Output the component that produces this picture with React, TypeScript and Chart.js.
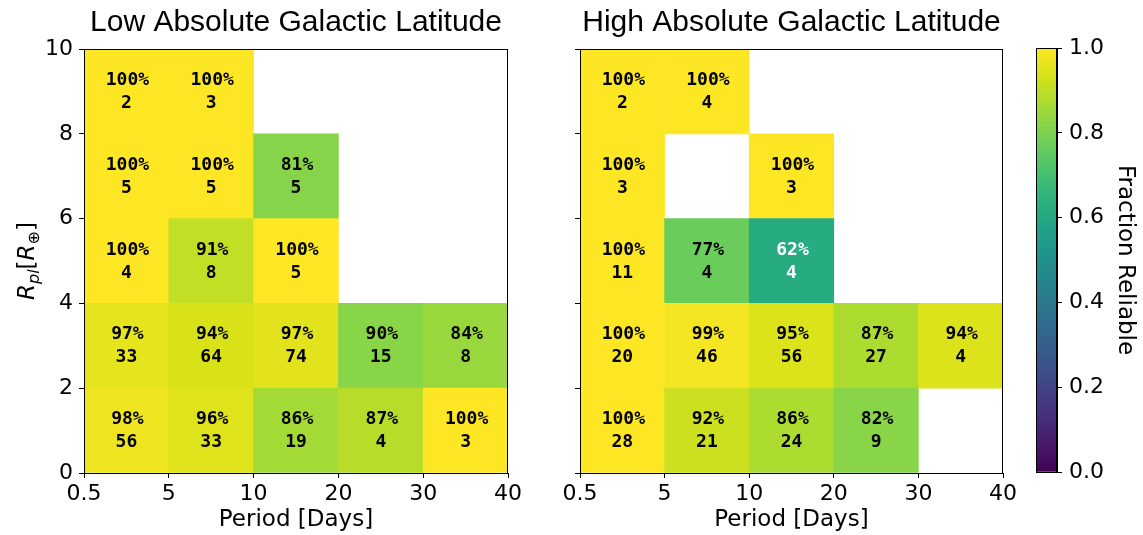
import React, { useEffect, useRef } from "react";
import { Chart, registerables } from "chart.js";

Chart.register(...registerables);

// ---------------- data ----------------
const panelTitles = ["Low Absolute Galactic Latitude", "High Absolute Galactic Latitude"];
const periodTickLabels = ["0.5", "5", "10", "20", "30", "40"];
const radiusEdges = [0, 2, 4, 6, 8, 10];
const colorbarTicks = [0, 0.2, 0.4, 0.6, 0.8, 1.0];
const xAxisTitle = "Period [Days]";
const colorbarTitle = "Fraction Reliable";

// rows: radius bins bottom -> top (0-2, 2-4, 4-6, 6-8, 8-10); columns: period bins
const lowPct = [
  [98, 96, 86, 87, 100],
  [97, 94, 97, 90, 84],
  [100, 91, 100, null, null],
  [100, 100, 81, null, null],
  [100, 100, null, null, null],
];
const lowCount = [
  [56, 33, 19, 4, 3],
  [33, 64, 74, 15, 8],
  [4, 8, 5, null, null],
  [5, 5, 5, null, null],
  [2, 3, null, null, null],
];
const lowColorFrac = [
  [0.975, 0.95, 0.86, 0.89, 1.0],
  [0.96, 0.94, 0.955, 0.82, 0.845],
  [1.0, 0.905, 1.0, null, null],
  [1.0, 1.0, 0.815, null, null],
  [1.0, 1.0, null, null, null],
];

const highPct = [
  [100, 92, 86, 82, null],
  [100, 99, 95, 87, 94],
  [100, 77, 62, null, null],
  [100, null, 100, null, null],
  [100, 100, null, null, null],
];
const highCount = [
  [28, 21, 24, 9, null],
  [20, 46, 56, 27, 4],
  [11, 4, 4, null, null],
  [3, null, 3, null, null],
  [2, 4, null, null, null],
];
const highColorFrac = [
  [1.0, 0.92, 0.875, 0.82, null],
  [1.0, 0.985, 0.945, 0.875, 0.945],
  [1.0, 0.77, 0.615, null, null],
  [1.0, null, 1.0, null, null],
  [1.0, 1.0, null, null, null],
];

// viridis colormap stops (0 .. 1)
const VIRIDIS = [
  "#440154", "#48186a", "#472d7b", "#424086", "#3b528b", "#33638d",
  "#2c728e", "#26828e", "#21918c", "#1fa088", "#28ae80", "#3fbc73",
  "#5ec962", "#84d44b", "#addc30", "#d8e219", "#fde725",
];

function hexToRgb(h: string) {
  const n = parseInt(h.slice(1), 16);
  return [(n >> 16) & 255, (n >> 8) & 255, n & 255];
}
function viridis(t: number) {
  const v = Math.max(0, Math.min(1, t)) * (VIRIDIS.length - 1);
  const i = Math.min(Math.floor(v), VIRIDIS.length - 2);
  const f = v - i;
  const a = hexToRgb(VIRIDIS[i]);
  const b = hexToRgb(VIRIDIS[i + 1]);
  const c = a.map((x, k) => Math.round(x + (b[k] - x) * f));
  return `rgb(${c[0]},${c[1]},${c[2]})`;
}

const TICK_FONT = { family: "'DejaVu Sans'", size: 22 };
const LABEL_FONT = { family: "'DejaVu Sans'", size: 23 };

function buildDatasets(pct: any[][], count: any[][], frac: any[][]) {
  return pct.map((row, r) => ({
    label: `${radiusEdges[r]}-${radiusEdges[r + 1]}`,
    data: row
      .map((p, c) =>
        p == null
          ? null
          : { x: c + 0.5, y: [radiusEdges[r], radiusEdges[r + 1]], p, n: count[r][c], f: frac[r][c] }
      )
      .filter((d) => d !== null),
    backgroundColor: (ctx: any) => viridis(ctx.raw ? ctx.raw.f : 1),
    borderWidth: 0,
    grouped: false,
    barPercentage: 1,
    categoryPercentage: 1,
  }));
}

const framePlugin = {
  id: "frame",
  afterDraw(chart: any) {
    const { ctx, chartArea: a } = chart;
    ctx.save();
    ctx.strokeStyle = "#000";
    ctx.lineWidth = 1;
    ctx.strokeRect(Math.round(a.left) + 0.5, Math.round(a.top) + 0.5, Math.round(a.right - a.left) - 1, Math.round(a.bottom - a.top));
    ctx.restore();
  },
};

const cellLabelPlugin = {
  id: "cellLabels",
  afterDatasetsDraw(chart: any) {
    const ctx = chart.ctx;
    ctx.save();
    ctx.font = "bold 18px 'DejaVu Sans Mono'";
    ctx.textAlign = "center";
    ctx.textBaseline = "middle";
    chart.data.datasets.forEach((ds: any, di: number) => {
      const meta = chart.getDatasetMeta(di);
      meta.data.forEach((el: any, i: number) => {
        const raw = ds.data[i];
        if (!raw) return;
        const { x, y, base } = el.getProps(["x", "y", "base"], true);
        const cy = (y + base) / 2;
        ctx.fillStyle = raw.p < 70 ? "#fff" : "#000";
        ctx.fillText(`${raw.p}%`, x + 1, cy - 11);
        ctx.fillText(String(raw.n), x, cy + 12);
      });
    });
    ctx.restore();
  },
};

function panelTitlePlugin(text: string) {
  return {
    id: "panelTitle",
    afterDraw(chart: any) {
      const { ctx, chartArea: a } = chart;
      ctx.save();
      ctx.font = "30px 'Liberation Sans'";
      ctx.fillStyle = "#000";
      ctx.textAlign = "center";
      ctx.textBaseline = "alphabetic";
      ctx.fillText(text, (a.left + a.right) / 2, 31);
      ctx.restore();
    },
  };
}

const yTitlePlugin = {
  id: "yTitle",
  afterDraw(chart: any) {
    const { ctx, chartArea: a } = chart;
    const parts = [
      { t: "R", f: "italic 23px 'DejaVu Sans'", dy: 0 },
      { t: "pl", f: "italic 16px 'DejaVu Sans'", dy: 5 },
      { t: "[", f: "23px 'DejaVu Sans'", dy: 0 },
      { t: "R", f: "italic 23px 'DejaVu Sans'", dy: 0 },
      { t: "⊕", f: "16px 'DejaVu Sans'", dy: 5 },
      { t: "]", f: "23px 'DejaVu Sans'", dy: 0 },
    ];
    ctx.save();
    let total = 0;
    const widths = parts.map((p) => {
      ctx.font = p.f;
      const w = ctx.measureText(p.t).width;
      total += w;
      return w;
    });
    ctx.translate(26, (a.top + a.bottom) / 2);
    ctx.rotate(-Math.PI / 2);
    ctx.fillStyle = "#000";
    ctx.textAlign = "left";
    ctx.textBaseline = "alphabetic";
    let x = -total / 2;
    parts.forEach((p, i) => {
      ctx.font = p.f;
      ctx.fillText(p.t, x, 8 + p.dy);
      x += widths[i];
    });
    ctx.restore();
  },
};

function heatmapConfig(
  title: string,
  pct: any[][],
  count: any[][],
  frac: any[][],
  yAxisWidth: number,
  padRight: number,
  showYLabels: boolean
) {
  return {
    type: "bar" as const,
    data: { datasets: buildDatasets(pct, count, frac) },
    options: {
      responsive: false,
      animation: false as const,
      layout: { padding: { top: 49, right: padRight, left: 0, bottom: 0 } },
      plugins: { legend: { display: false }, tooltip: { enabled: false }, title: { display: false } },
      scales: {
        x: {
          type: "linear" as const,
          min: 0,
          max: periodTickLabels.length - 1,
          offset: false,
          grid: { offset: false, drawOnChartArea: false, drawTicks: true, tickLength: 5, color: "#000", lineWidth: 1 },
          border: { display: true, color: "#000" },
          ticks: {
            stepSize: 1,
            autoSkip: false,
            maxRotation: 0,
            color: "#000",
            font: TICK_FONT,
            padding: 3,
            callback: (v: any) => periodTickLabels[v] ?? "",
          },
          title: { display: true, text: xAxisTitle, color: "#000", font: LABEL_FONT, padding: { top: 0, bottom: 1 } },
          afterFit: (s: any) => {
            s.height = 62;
          },
        },
        y: {
          type: "linear" as const,
          min: radiusEdges[0],
          max: radiusEdges[radiusEdges.length - 1],
          grid: { drawOnChartArea: false, drawTicks: true, tickLength: 5, color: "#000", lineWidth: 1 },
          border: { display: true, color: "#000" },
          ticks: {
            stepSize: 2,
            autoSkip: false,
            color: "#000",
            font: TICK_FONT,
            padding: 6,
            callback: (v: any) => (showYLabels ? String(v) : ""),
          },
          afterFit: (s: any) => {
            s.width = yAxisWidth;
          },
        },
      },
    },
    plugins: [cellLabelPlugin, framePlugin, panelTitlePlugin(title)].concat(showYLabels ? [yTitlePlugin] : []),
  };
}

function colorbarConfig() {
  return {
    type: "bar" as const,
    data: {
      labels: [""],
      datasets: [
        {
          data: [[colorbarTicks[0], colorbarTicks[colorbarTicks.length - 1]]],
          backgroundColor: (ctx: any) => {
            const a = ctx.chart.chartArea;
            if (!a) return VIRIDIS[VIRIDIS.length - 1];
            const g = ctx.chart.ctx.createLinearGradient(0, a.bottom, 0, a.top);
            VIRIDIS.forEach((c, i) => g.addColorStop(i / (VIRIDIS.length - 1), c));
            return g;
          },
          borderWidth: 0,
          barPercentage: 1,
          categoryPercentage: 1,
        },
      ],
    },
    options: {
      responsive: false,
      animation: false as const,
      layout: { padding: { top: 48, right: 0, left: 6, bottom: 63 } },
      plugins: { legend: { display: false }, tooltip: { enabled: false } },
      scales: {
        x: { display: false },
        y: {
          position: "right" as const,
          min: 0,
          max: 1,
          grid: { drawOnChartArea: false, drawTicks: true, tickLength: 5, color: "#000", lineWidth: 1 },
          border: { display: true, color: "#000" },
          ticks: {
            stepSize: 0.2,
            autoSkip: false,
            color: "#000",
            font: TICK_FONT,
            padding: 7,
            callback: (v: any) => Number(v).toFixed(1),
          },
          title: { display: true, text: colorbarTitle, color: "#000", font: LABEL_FONT, padding: { top: 4, bottom: 0 } },
          afterFit: (s: any) => {
            s.width = 86;
          },
        },
      },
    },
    plugins: [framePlugin],
  };
}

export default function App() {
  const leftRef = useRef<HTMLCanvasElement>(null);
  const rightRef = useRef<HTMLCanvasElement>(null);
  const cbRef = useRef<HTMLCanvasElement>(null);

  useEffect(() => {
    const charts: Chart[] = [];
    if (leftRef.current)
      charts.push(new Chart(leftRef.current, heatmapConfig(panelTitles[0], lowPct, lowCount, lowColorFrac, 84, 32, true) as any));
    if (rightRef.current)
      charts.push(new Chart(rightRef.current, heatmapConfig(panelTitles[1], highPct, highCount, highColorFrac, 40, 27, false) as any));
    if (cbRef.current) charts.push(new Chart(cbRef.current, colorbarConfig() as any));
    return () => charts.forEach((c) => c.destroy());
  }, []);

  return (
    <div style={{ position: "absolute", left: 0, top: 0, width: 1143, height: 535, background: "#fff" }}>
      <canvas ref={leftRef} width={540} height={535} style={{ position: "absolute", left: 0, top: 0 }} />
      <canvas ref={rightRef} width={490} height={535} style={{ position: "absolute", left: 540, top: 0 }} />
      <canvas ref={cbRef} width={113} height={535} style={{ position: "absolute", left: 1030, top: 0 }} />
    </div>
  );
}
